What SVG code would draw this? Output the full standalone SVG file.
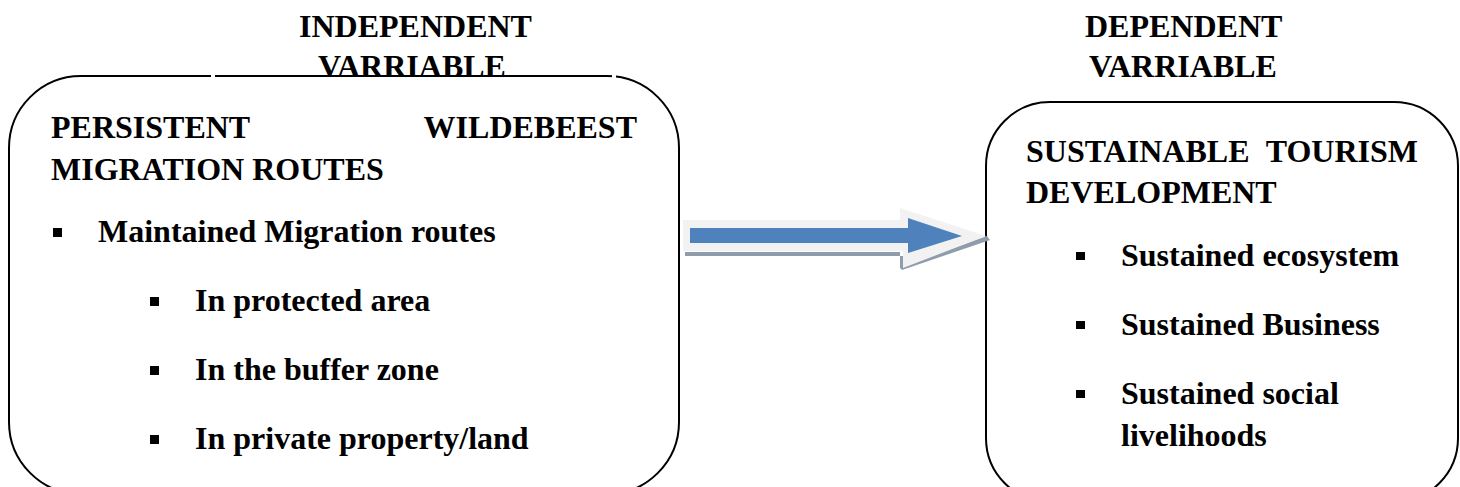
<svg xmlns="http://www.w3.org/2000/svg" width="1460" height="487" viewBox="0 0 1460 487">
<style>
.t{font-family:"Liberation Serif","Times New Roman",serif;font-weight:bold;font-size:32px;fill:#000}
.box{fill:#fff;stroke:#000;stroke-width:2}
.b{fill:#000}
</style>
<rect width="1460" height="487" fill="#fff"/>
<g id="node-independent">
<rect class="box" x="9" y="76" width="670" height="418" rx="72" ry="72"/>
<rect x="211" y="73" width="4" height="6" fill="#fff"/>
<rect x="612" y="73" width="4" height="6" fill="#fff"/>
<text class="t" x="299" y="37">INDEPENDENT</text>
<text class="t" x="318" y="77">VARRIABLE</text>
<text class="t" x="51" y="138">PERSISTENT</text>
<text class="t" x="637" y="138" text-anchor="end">WILDEBEEST</text>
<text class="t" x="51" y="180">MIGRATION ROUTES</text>
<rect class="b" x="53" y="228" width="9" height="9"/>
<text class="t" x="98" y="242">Maintained Migration routes</text>
<rect class="b" x="150" y="297" width="9" height="9"/>
<text class="t" x="195" y="311">In protected area</text>
<rect class="b" x="150" y="366" width="9" height="9"/>
<text class="t" x="195" y="380">In the buffer zone</text>
<rect class="b" x="150" y="435" width="9" height="9"/>
<text class="t" x="195" y="449">In private property/land</text>
</g>
<g id="node-dependent">
<rect class="box" x="986" y="102" width="472" height="400" rx="64" ry="64"/>
<text class="t" x="1085" y="37">DEPENDENT</text>
<text class="t" x="1089" y="77">VARRIABLE</text>
<text class="t" x="1026" y="162">SUSTAINABLE</text>
<text class="t" x="1418" y="162" text-anchor="end">TOURISM</text>
<text class="t" x="1026" y="203">DEVELOPMENT</text>
<rect class="b" x="1076" y="252" width="9" height="8"/>
<text class="t" x="1121" y="266">Sustained ecosystem</text>
<rect class="b" x="1076" y="321" width="9" height="8"/>
<text class="t" x="1121" y="335">Sustained Business</text>
<rect class="b" x="1076" y="390" width="9" height="8"/>
<text class="t" x="1121" y="404">Sustained social</text>
<text class="t" x="1121" y="446">livelihoods</text>
</g>
<g id="connectors">
<polygon points="685,252 900,252 900,268 902,270 990,240 987,236 903,266 903,256 685,256" fill="#8f9cab"/>
<polygon points="683,220 900,220 900,208 986,236 903,268 903,251 683,251" fill="#f2f2f2"/>
<polygon points="690,228 908,228 908,218 962,236 908,253 908,243 690,243" fill="#4f81bd"/>
</g>
</svg>
